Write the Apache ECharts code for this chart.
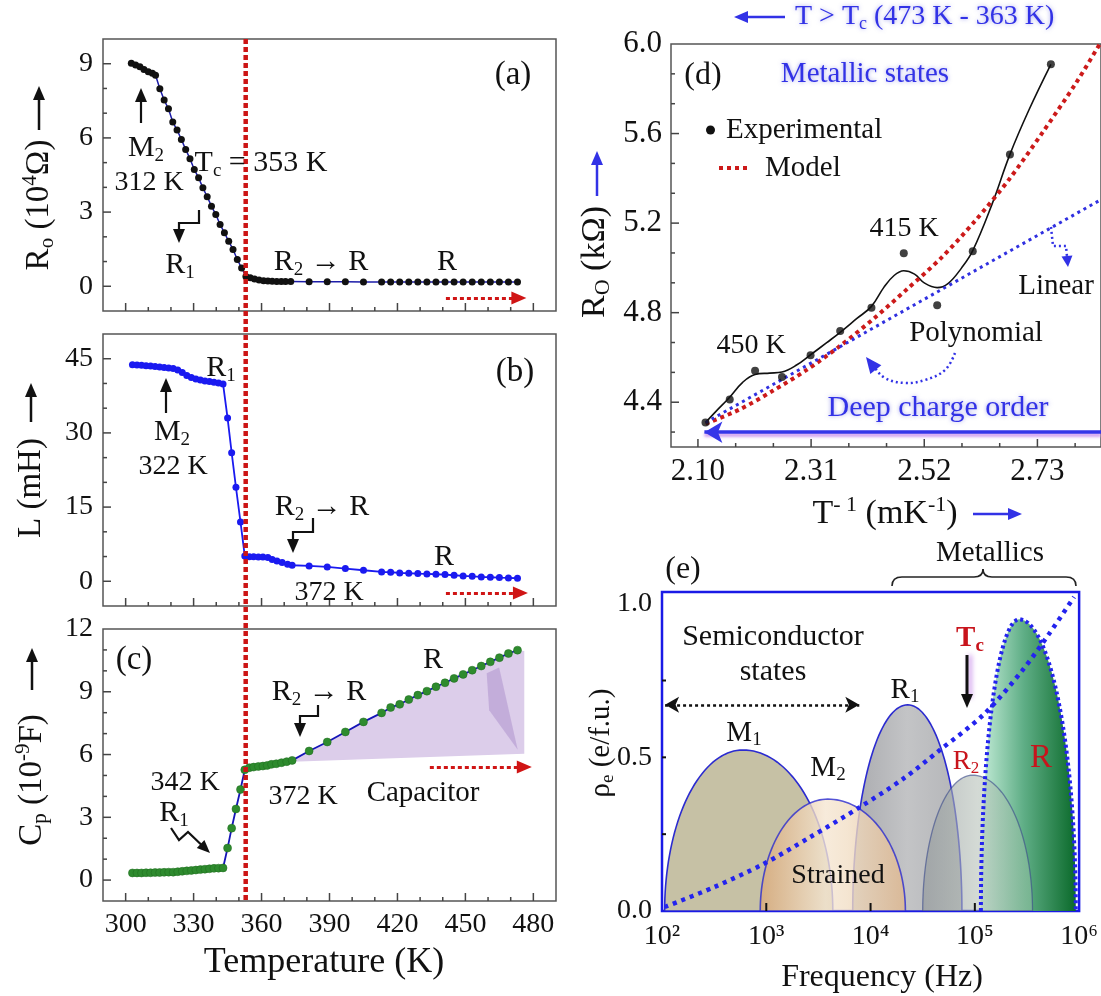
<!DOCTYPE html>
<html><head><meta charset="utf-8">
<script src="https://cdn.jsdelivr.net/npm/echarts@6/dist/echarts.min.js"></script>
<style>html,body{margin:0;padding:0;background:#fff}#c{width:1101px;height:996px}</style>
</head><body><div id="c"></div>
<script>
const FONT = "'Liberation Serif','Times New Roman',serif";

// ---------------- Panel (a): R_o (10^4 ohm) vs T ----------------
const tempA = [302.5,304.4,306.3,308.1,310.0,311.8,313.2,
  315.1,317.0,318.9,320.8,322.7,324.6,326.5,328.4,330.3,332.2,334.1,336.0,337.9,339.8,341.7,343.6,345.5,347.4,349.3,351.2,353.1,
  355.0,356.9,358.9,360.9,362.8,364.7,366.7,368.7,370.6,372.9,
  381,389,397,405,413,417,421,425,429,433,437,441,445,449,453,457,461,465,469,473];
const resA = [9.02,8.95,8.88,8.77,8.68,8.61,8.53,
  7.99,7.53,7.18,6.64,6.32,5.94,5.53,5.16,4.72,4.39,3.98,3.62,3.24,2.90,2.50,2.16,1.82,1.49,1.08,0.74,0.40,
  0.34,0.29,0.25,0.22,0.21,0.20,0.19,0.19,0.19,0.19,
  0.18,0.18,0.18,0.17,0.17,0.17,0.17,0.17,0.17,0.17,0.17,0.17,0.17,0.17,0.17,0.17,0.17,0.17,0.17,0.17];

// ---------------- Panel (b): L (mH) vs T ----------------
const tempB = [303,305,307,309,311,313,315,317,319,321,323,325,327,329,331,333,335,337,339,341,343,
  345.0,346.8,348.7,350.7,352.6,
  354.6,356.5,358.6,360.6,362.8,364.7,366.8,369.1,371.5,373.5,
  381,389,397,405,413,417,421,425,429,433,437,441,445,449,453,457,461,465,469,473];
const indB = [43.8,43.75,43.7,43.6,43.55,43.45,43.35,43.25,43.1,43.0,42.7,42.2,41.6,41.2,40.9,40.7,40.5,40.4,40.25,40.1,39.9,
  33.0,26.0,19.0,12.0,5.1,
  4.95,4.95,4.93,4.9,4.8,4.39,4.12,3.78,3.45,3.24,
  3.1,2.9,2.57,2.23,1.89,1.82,1.69,1.62,1.55,1.49,1.42,1.35,1.22,1.08,1.01,0.88,0.81,0.74,0.68,0.61];

// ---------------- Panel (c): Cp (10^-9 F) vs T ----------------
const tempC = [303,305,307,309,311,313,315,317,319,321,323,325,327,329,331,333,335,337,339,341,343,
  345.0,346.8,348.7,350.7,352.6,
  354.6,356.5,358.6,360.6,362.5,364.4,366.5,368.8,371.1,373.5,
  381,389,397,405,413,417,421,425,429,433,437,441,445,449,453,457,461,465,469,473];
const capC = [0.34,0.34,0.34,0.35,0.35,0.36,0.36,0.37,0.38,0.38,0.40,0.42,0.44,0.46,0.48,0.50,0.52,0.54,0.56,0.57,0.58,
  1.53,2.48,3.40,4.33,5.27,
  5.37,5.40,5.43,5.45,5.48,5.53,5.56,5.61,5.66,5.72,
  6.17,6.60,7.08,7.56,7.99,8.25,8.40,8.63,8.84,9.03,9.24,9.43,9.64,9.83,10.03,10.23,10.43,10.63,10.83,10.99];
// capacitor shaded wedge (edges)
const capWedgeStartT = 373.5, capWedgeStartV = 5.65;
const capWedgeEndT = 476.0, capWedgeTopV = 10.95, capWedgeBottomV = 6.04;
const capDarkT = [459.4, 464.9, 473.1, 460.5];
const capDarkV = [9.88, 10.16, 6.23, 8.12];
const tcTemp = 353;

// ticks (temperature panels)
const tempTicks = [300,310,320,330,340,350,360,370,380,390,400,410,420,430,440,450,460,470,480];
const tempLabels = [300,330,360,390,420,450,480];
const resTicks = [0,1,2,3,4,5,6,7,8,9];
const resLabels = [0,3,6,9];
const indTicks = [0,5,10,15,20,25,30,35,40,45];
const indLabels = [0,15,30,45];
const capTicks = [0,1,2,3,4,5,6,7,8,9,10,11];
const capLabels = [0,3,6,9,12];

// ---------------- Panel (d): R_o (kOhm) vs 1/T ----------------
const invT = [2.114,2.159,2.206,2.256,2.309,2.364,2.422,2.482,2.544,2.610,2.679,2.755];
const roExp = [4.309,4.412,4.541,4.513,4.610,4.718,4.822,5.065,4.833,5.074,5.507,5.909];
const fitInvT = [2.114,2.133,2.158,2.183,2.206,2.233,2.256,2.283,2.309,2.339,2.364,2.395,2.422,2.445,2.464,2.482,2.502,2.520,2.544,2.564,2.589,2.610,2.646,2.679,2.714,2.755];
const fitRo = [4.309,4.358,4.420,4.489,4.524,4.530,4.535,4.566,4.612,4.666,4.712,4.774,4.828,4.913,4.966,4.987,4.972,4.933,4.912,4.930,4.999,5.077,5.286,5.507,5.704,5.909];
const modelInvT = [2.114,2.176,2.239,2.301,2.364,2.427,2.489,2.552,2.614,2.677,2.739,2.802,2.845];
const modelRo = [4.304,4.366,4.451,4.543,4.652,4.775,4.907,5.046,5.209,5.394,5.603,5.827,5.997];
const linInvT = [2.114, 2.848];
const linRo = [4.309, 5.305];
const deepOrderRo = 4.266, deepOrderFrom = 2.848, deepOrderTo = 2.112;
const invTTicks = [2.10,2.17,2.24,2.31,2.38,2.45,2.52,2.59,2.66,2.73,2.80];
const invTLabels = [2.10,2.31,2.52,2.73];
const roTicks = [4.2667,4.4,4.5333,4.6667,4.8,4.9333,5.0667,5.2,5.3333,5.4667,5.6,5.7333,5.8667];
const roLabels = [4.4,4.8,5.2,5.6,6.0];

// ---------------- Panel (e): rho_e vs frequency ----------------
const bandNames = ['M1','R1','M2','R','R2'];       // drawing order
const bandLeftHz  = [106, 6745, 875, 114300, 31620];
const bandPeakHz  = [597, 22700, 3890, 266100, 95060];
const bandRightHz = [4345, 75160, 21580, 929000, 357300];
const bandHeight  = [0.524, 0.671, 0.364, 0.949, 0.442];
const rhoFreq = [106,308,927,2594,7816,20320,45600,123000,286000,516000,895000];
const rhoVal  = [0.013,0.076,0.152,0.239,0.337,0.429,0.522,0.641,0.783,0.902,1.022];
const semiFrom = 107, semiTo = 7800, semiLevel = 0.671;
const rhoLabels = [0, 0.5, 1.0];
const rhoTicks = [0.25, 0.5, 0.75];
const freqTicks = [1e3, 1e4, 1e5];
const freqLabels = [1e2, 1e3, 1e4, 1e5, 1e6];

// ======================================================================
const zip = (a, b) => a.map((v, i) => [v, b[i]]);
const SUP = {'2':'²','3':'³','4':'⁴','5':'⁵','6':'⁶'};

const grids = [
  {left:103, top:39,  width:453, height:272, show:true, borderColor:'#555', borderWidth:1.5},
  {left:103, top:334, width:453, height:272, show:true, borderColor:'#555', borderWidth:1.5},
  {left:103, top:629, width:453, height:272, show:true, borderColor:'#555', borderWidth:1.5},
  {left:671, top:44,  width:432, height:403, show:true, borderColor:'#555', borderWidth:1.5},
  {left:662, top:592, width:418, height:319, show:true, borderColor:'#1a1ae6', borderWidth:2.5}
];
const xAxes = [], yAxes = [];
function axis(list, gi, min, max, labels, showLabel, fmt, o) {
  o = o || {};
  const a = {
    type:o.type || 'value', gridIndex:gi, min, max,
    splitLine:{show:false},
    axisLine:{show:false, onZero:false},
    axisTick:{show:false},
    axisLabel:{show:showLabel, customValues:labels, formatter:fmt, fontFamily:FONT, fontSize:o.fontSize || 28, color:'#111', margin:o.margin || 10}
  };
  if (o.type === 'log') a.logBase = 10;
  list.push(a); return list.length - 1;
}
const fmtInt = v => String(Math.round(v));
const xa = axis(xAxes, 0, 290, 490, tempLabels, false, fmtInt);
const ya = axis(yAxes, 0, -1, 10, resLabels, true, fmtInt);
const xb = axis(xAxes, 1, 290, 490, tempLabels, false, fmtInt);
const yb = axis(yAxes, 1, -5, 50, indLabels, true, fmtInt);
const xc = axis(xAxes, 2, 290, 490, tempLabels, true, fmtInt);
const yc = axis(yAxes, 2, -1, 12, capLabels, true, fmtInt);
const xd = axis(xAxes, 3, 2.05, 2.848, invTLabels, true, v => v.toFixed(2), {fontSize:31, margin:9});
const yd = axis(yAxes, 3, 4.2, 6.0, roLabels, true, v => v.toFixed(1), {fontSize:31, margin:9});
const xe = axis(xAxes, 4, 100, 1e6, freqLabels, true,
  v => '10' + SUP[String(Math.round(Math.log10(v)))], {type:'log', margin:12});
const ye = axis(yAxes, 4, 0, 1.038, rhoLabels, true, v => v.toFixed(1));

const redArrowLine = (t1, t2, v) => ({
  silent:true, symbol:['none','triangle'], symbolSize:[13,15], label:{show:false},
  lineStyle:{color:'#d01515', type:[4,3], width:3}, emphasis:{disabled:true},
  data:[[{coord:[t1, v]}, {coord:[t2, v]}]]
});

// band styles
const G = echarts.graphic;
const bandStyle = {
  M1: {fill:'#c6c1a5', opacity:1, stroke:'#2b2bd0', lw:1.6},
  R1: {fill:new G.LinearGradient(0,0,1,0,[{offset:0,color:'#a9aaae'},{offset:0.5,color:'#c3c4c6'},{offset:1,color:'#b3b4b7'}]), opacity:1, stroke:'#2b2bd0', lw:1.6},
  M2: {fill:new G.LinearGradient(0,0,1,0,[{offset:0,color:'#d9a878'},{offset:0.45,color:'#f5e6d2'},{offset:0.6,color:'#f2dfc6'},{offset:1,color:'#dfb68c'}]), opacity:0.8, stroke:'#2b2bd0', lw:1.6},
  R:  {fill:new G.LinearGradient(0,0,1,0,[{offset:0,color:'#c4ecd8'},{offset:0.45,color:'#5fae86'},{offset:1,color:'#0b6a2b'}]), opacity:1, stroke:null, lw:0},
  R2: {fill:new G.LinearGradient(0,0,1,0,[{offset:0,color:'#8e9497'},{offset:0.5,color:'#b9c3bb'},{offset:1,color:'#8cbf9f'}]), opacity:0.62, stroke:'#3a4a8a', lw:1.3}
};
function bandPoints(api, l, p, r, h) {
  const L = Math.log10(l), P = Math.log10(p), R = Math.log10(r), N = 40, pts = [];
  for (let i = 0; i <= N; i++) { const th = Math.PI - (Math.PI/2)*i/N; pts.push(api.coord([Math.pow(10, P + (P-L)*Math.cos(th)), h*Math.sin(th)])); }
  for (let i = 1; i <= N; i++) { const th = Math.PI/2 - (Math.PI/2)*i/N; pts.push(api.coord([Math.pow(10, P + (R-P)*Math.cos(th)), h*Math.sin(th)])); }
  return pts;
}
const bandData = bandNames.map((n, i) => [bandLeftHz[i], bandPeakHz[i], bandRightHz[i], bandHeight[i]]);

const series = [
  { type:'line', xAxisIndex:xa, yAxisIndex:ya, data:zip(tempA, resA), symbol:'circle', symbolSize:7,
    itemStyle:{color:'#111'}, lineStyle:{color:'#1c1ca8', width:1.5}, markLine:redArrowLine(441.4, 473.6, -0.47), z:3 },
  { type:'line', xAxisIndex:xb, yAxisIndex:yb, data:zip(tempB, indB), symbol:'circle', symbolSize:7,
    itemStyle:{color:'#1a1af0'}, lineStyle:{color:'#1a1af0', width:1.8}, markLine:redArrowLine(441.4, 474.3, -2.36), z:3 },
  { type:'custom', xAxisIndex:xc, yAxisIndex:yc, data:[[capWedgeStartT, capWedgeStartV]], z:1, silent:true,
    renderItem:(params, api) => {
      const top = [];
      tempC.forEach((t, i) => { if (t >= capWedgeStartT) top.push(api.coord([t, capC[i]])); });
      const pts = [api.coord([capWedgeStartT, capWedgeStartV])].concat(top,
        [api.coord([capWedgeEndT, capWedgeTopV]), api.coord([capWedgeEndT, capWedgeBottomV])]);
      const dark = capDarkT.map((t, i) => api.coord([t, capDarkV[i]]));
      return {type:'group', children:[
        {type:'polygon', shape:{points:pts}, style:{fill:'#dccdea'}},
        {type:'polygon', shape:{points:dark}, style:{fill:'rgba(150,115,190,0.35)'}}
      ]};
    }},
  { type:'line', xAxisIndex:xc, yAxisIndex:yc, data:zip(tempC, capC), symbol:'circle', symbolSize:8,
    itemStyle:{color:'#2e8b2e', borderColor:'#1f6a1f', borderWidth:0.5}, lineStyle:{color:'#1414b8', width:1.8},
    markLine:redArrowLine(434.3, 476, 5.4), z:3 },
  // (d)
  { type:'line', xAxisIndex:xd, yAxisIndex:yd, data:zip(fitInvT, fitRo), smooth:0.4, symbol:'none',
    lineStyle:{color:'#111', width:1.6}, z:3 },
  { type:'line', xAxisIndex:xd, yAxisIndex:yd, data:zip(modelInvT, modelRo), smooth:0.3, symbol:'none',
    lineStyle:{color:'#cc1a1a', width:4, type:[4,4]}, z:4 },
  { type:'line', xAxisIndex:xd, yAxisIndex:yd, data:zip(linInvT, linRo), symbol:'none',
    lineStyle:{color:'#3030e0', width:3, type:[3,4]}, z:4,
    markLine:{silent:true, symbol:['none','arrow'], symbolSize:[16,18], label:{show:false}, emphasis:{disabled:true},
      lineStyle:{color:'#3535e8', width:3.5, type:'solid', shadowColor:'rgba(200,140,235,0.9)', shadowBlur:3, shadowOffsetY:3},
      data:[[{coord:[deepOrderFrom, deepOrderRo]}, {coord:[deepOrderTo, deepOrderRo]}]]} },
  { type:'scatter', xAxisIndex:xd, yAxisIndex:yd, data:zip(invT, roExp), symbolSize:8, itemStyle:{color:'#111'}, z:5 },
  // (e)
  { type:'custom', xAxisIndex:xe, yAxisIndex:ye, data:bandData, z:1, silent:true, clip:true,
    encode:{x:[0,1,2], y:3},
    renderItem:(params, api) => {
      const st = bandStyle[bandNames[params.dataIndex]];
      return {type:'polygon', shape:{points:bandPoints(api, api.value(0), api.value(1), api.value(2), api.value(3))},
        style:{fill:st.fill, opacity:st.opacity, stroke:st.stroke, lineWidth:st.lw}};
    }},
  { type:'custom', xAxisIndex:xe, yAxisIndex:ye, data:[bandData[bandNames.indexOf('R')]], z:2, silent:true,
    encode:{x:[0,1,2], y:3},
    renderItem:(params, api) => ({type:'polyline',
      shape:{points:bandPoints(api, api.value(0), api.value(1), api.value(2), api.value(3))},
      style:{fill:null, stroke:'#2323ee', lineWidth:4, lineDash:[3,3]}})},
  { type:'line', xAxisIndex:xe, yAxisIndex:ye, data:zip(rhoFreq, rhoVal), smooth:0.3, symbol:'none',
    lineStyle:{color:'#2323ee', width:4.5, type:[4,5]}, z:3,
    markLine:{silent:true, symbol:['arrow','arrow'], symbolSize:[12,14], label:{show:false}, emphasis:{disabled:true},
      lineStyle:{color:'#111', width:2.5, type:[3,3]},
      data:[[{coord:[semiFrom, semiLevel]}, {coord:[semiTo, semiLevel]}]]} }
];

const chart = echarts.init(document.getElementById('c'), null, {renderer:'canvas'});
chart.setOption({animation:false, backgroundColor:'#fff', grid:grids, xAxis:xAxes, yAxis:yAxes, series});

// ---------------- annotations ----------------
function T(x, y, text, size, o) {
  o = o || {};
  const color = o.color || '#111', w = o.weight || 'normal';
  const lh = Math.round(size*1.15), small = Math.round(size*0.64);
  return {type:'text', x, y, rotation:o.rot || 0, z:40,
    style:{text, fill:color, fontFamily:FONT, fontSize:size, fontWeight:w, lineHeight:lh,
      align:o.align || 'center', verticalAlign:'middle',
      textShadowColor:o.glow || 'rgba(0,0,0,0)', textShadowBlur:o.glow ? 4 : 0,
      rich:{
        s:{fontFamily:FONT, fontSize:small, fontWeight:w, fill:color, verticalAlign:'bottom'},
        u:{fontFamily:FONT, fontSize:small, fontWeight:w, fill:color, verticalAlign:'top'}
      }}};
}
function A(pts, o) {
  o = o || {};
  const c = o.color || '#111', w = o.width || 2.2, hl = o.hl || 14, hw = o.hw || 12;
  const n = pts.length, [x1, y1] = pts[n-2], [x2, y2] = pts[n-1];
  const a = Math.atan2(y2-y1, x2-x1), ca = Math.cos(a), sa = Math.sin(a);
  const bx = x2 - ca*hl, by = y2 - sa*hl;
  const line = pts.slice(0, n-1).concat([[x2 - ca*hl*0.7, y2 - sa*hl*0.7]]);
  return [
    {type:'polyline', z:30, shape:{points:line, smooth:o.smooth || 0},
      style:{stroke:c, lineWidth:w, fill:null, lineDash:o.dash || null,
        shadowColor:o.glow || 'rgba(0,0,0,0)', shadowBlur:o.glow ? 5 : 0, shadowOffsetX:o.glow ? 3 : 0}},
    {type:'polygon', z:30, shape:{points:[[x2, y2], [bx + sa*hw/2, by - ca*hw/2], [bx - sa*hw/2, by + ca*hw/2]]}, style:{fill:c}}
  ];
}
function curve(x1, y1, cx, cy, x2, y2) {
  return {type:'bezierCurve', z:30, shape:{x1, y1, cpx1:cx, cpy1:cy, x2, y2}, style:{stroke:'#222', lineWidth:1.6, fill:null}};
}
// inside ticks drawn through the axis scales
function ticks(gi, xi, yi, xt, xMajor, yt, yMajor, color, w) {
  const gr = grids[gi], bottom = gr.top + gr.height, left = gr.left, out = [];
  const isMaj = (arr, v) => arr.some(m => Math.abs(m - v) < 1e-6);
  xt.forEach(v => {
    const px = chart.convertToPixel({xAxisIndex:xi}, v), len = isMaj(xMajor, v) ? 8 : 4;
    out.push({type:'line', z:25, shape:{x1:px, y1:bottom, x2:px, y2:bottom - len}, style:{stroke:color, lineWidth:w}});
  });
  yt.forEach(v => {
    const py = chart.convertToPixel({yAxisIndex:yi}, v), len = isMaj(yMajor, v) ? 8 : 4;
    out.push({type:'line', z:25, shape:{x1:left, y1:py, x2:left + len, y2:py}, style:{stroke:color, lineWidth:w}});
  });
  return out;
}
const BLUE = '#3232e6', RED = '#c8141c', BGLOW = 'rgba(90,90,220,0.55)';
const xTc = chart.convertToPixel({xAxisIndex:xa}, tcTemp);
const yTop = chart.convertToPixel({yAxisIndex:ya}, 10);
const yBot = chart.convertToPixel({yAxisIndex:yc}, -1);

const g = [];
g.push(...ticks(0, xa, ya, tempTicks, tempLabels, resTicks, resLabels, '#444', 1.5));
g.push(...ticks(1, xb, yb, tempTicks, tempLabels, indTicks, indLabels, '#444', 1.5));
g.push(...ticks(2, xc, yc, tempTicks, tempLabels, capTicks, capLabels, '#444', 1.5));
g.push(...ticks(3, xd, yd, invTTicks, invTLabels, roTicks, roLabels, '#444', 1.5));
g.push(...ticks(4, xe, ye, freqTicks, freqTicks, rhoTicks, [], '#111', 2));
g.push({type:'line', z:20, shape:{x1:xTc, y1:yTop, x2:xTc, y2:yBot}, style:{stroke:'#cc1515', lineWidth:4.5, lineDash:[5,3]}});
// (a)
g.push(T(513, 75, '(a)', 33), T(146, 148, 'M{s|2}', 30), T(149, 183, '312 K', 28),
  T(261, 163, 'T{s|c} = 353 K', 30), T(180, 265, 'R{s|1}', 30), T(321, 262, 'R{s|2} → R', 30), T(447, 262, 'R', 30));
g.push(...A([[141,123],[141,88]]), ...A([[199,210],[199,223],[179,223],[179,243]]));
// (b)
g.push(T(221, 368, 'R{s|1}', 30), T(515, 372, '(b)', 33), T(172, 432, 'M{s|2}', 30), T(173, 467, '322 K', 28),
  T(322, 507, 'R{s|2} → R', 30), T(329, 593, '372 K', 28), T(444, 557, 'R', 30));
g.push(...A([[166,413],[166,378]]), ...A([[313,518],[313,532],[293,532],[293,553]]));
// (c)
g.push(T(134, 660, '(c)', 33), T(433, 660, 'R', 30), T(319, 692, 'R{s|2} → R', 30), T(185, 783, '342 K', 28),
  T(174, 813, 'R{s|1}', 30), T(303, 797, '372 K', 28), T(423, 793, 'Capacitor', 29));
g.push(...A([[318,705],[318,716],[300,716],[300,737]]), ...A([[171,828],[179,840],[188,832],[210,853]], {hl:13, hw:11}));
// left axis titles
g.push(T(39, 205, 'R{s|o} (10{u|4}Ω)', 33, {rot:Math.PI/2}), ...A([[39,130],[39,86]], {width:2.5}));
g.push(T(31, 488, 'L (mH)', 33, {rot:Math.PI/2}), ...A([[31,422],[31,383]], {width:2.5}));
g.push(T(32, 780, 'C{s|p} (10{u|-9}F)', 33, {rot:Math.PI/2}), ...A([[32,690],[32,648]], {width:2.5}));
g.push(T(324, 963, 'Temperature (K)', 36));
// (d)
g.push(...A([[785,17],[734,17]], {color:BLUE, width:2.5}), T(795, 17, 'T > T{s|c} (473 K - 363 K)', 28, {color:BLUE, align:'left', glow:BGLOW}));
g.push(T(703, 76, '(d)', 32), T(865, 74, 'Metallic states', 29, {color:BLUE, glow:BGLOW}));
g.push({type:'circle', z:40, shape:{cx:710.5, cy:130, r:4.5}, style:{fill:'#111'}}, T(726, 130, 'Experimental', 29, {align:'left'}));
g.push({type:'line', z:40, shape:{x1:719, y1:168, x2:750, y2:168}, style:{stroke:'#cc1a1a', lineWidth:4, lineDash:[4,4]}}, T(765, 168, 'Model', 29, {align:'left'}));
g.push(T(904, 229, '415 K', 28), T(751, 346, '450 K', 28), T(1056, 286, 'Linear', 29), T(976, 333, 'Polynomial', 29));
g.push(T(938, 408, 'Deep charge order', 30, {color:BLUE, glow:BGLOW}));
g.push(...A([[1051,227],[1053,246],[1066,246],[1068,267]], {color:BLUE, width:2.5, dash:[2,3], hl:11, hw:11}));
g.push(...A([[955,353],[945,370],[925,380],[905,383],[885,378],[873,366],[866,357]], {color:BLUE, width:2.5, dash:[2,3], smooth:0.4, hl:16, hw:14}));
g.push(T(595, 262, 'R{s|O} (kΩ)', 34, {rot:Math.PI/2}), ...A([[597,196],[597,151]], {color:BLUE, width:2.5}));
g.push(T(885, 514, 'T{u|- 1} (mK{u|-1})', 34), ...A([[973,514],[1022,514]], {color:BLUE, width:2.5}));
// (e)
g.push(T(683, 570, '(e)', 32), T(990, 553, 'Metallics', 29));
g.push(curve(892,586,892,577,902,577), {type:'line', z:30, shape:{x1:902,y1:577,x2:974,y2:577}, style:{stroke:'#222', lineWidth:1.6}},
  curve(974,577,983,577,983,569), curve(983,569,983,577,992,577),
  {type:'line', z:30, shape:{x1:992,y1:577,x2:1066,y2:577}, style:{stroke:'#222', lineWidth:1.6}}, curve(1066,577,1076,577,1076,586));
g.push(T(773, 637, 'Semiconductor', 30), T(773, 672, 'states', 30));
g.push(T(744, 733, 'M{s|1}', 29), T(828, 768, 'M{s|2}', 29), T(905, 690, 'R{s|1}', 29));
g.push(T(970, 639, 'T{s|c}', 29, {color:RED, weight:'bold'}), ...A([[967,655],[967,708]], {width:3, glow:'rgba(190,120,230,0.9)', hl:14, hw:12}));
g.push(T(966, 762, 'R{s|2}', 27, {color:RED}), T(1041, 758, 'R', 33, {color:RED}), T(838, 876, 'Strained', 28));
g.push(T(601, 743, 'ρ{s|e} (e/f.u.)', 29, {rot:Math.PI/2}), T(882, 978, 'Frequency (Hz)', 32));

chart.setOption({graphic:g});
</script></body></html>
